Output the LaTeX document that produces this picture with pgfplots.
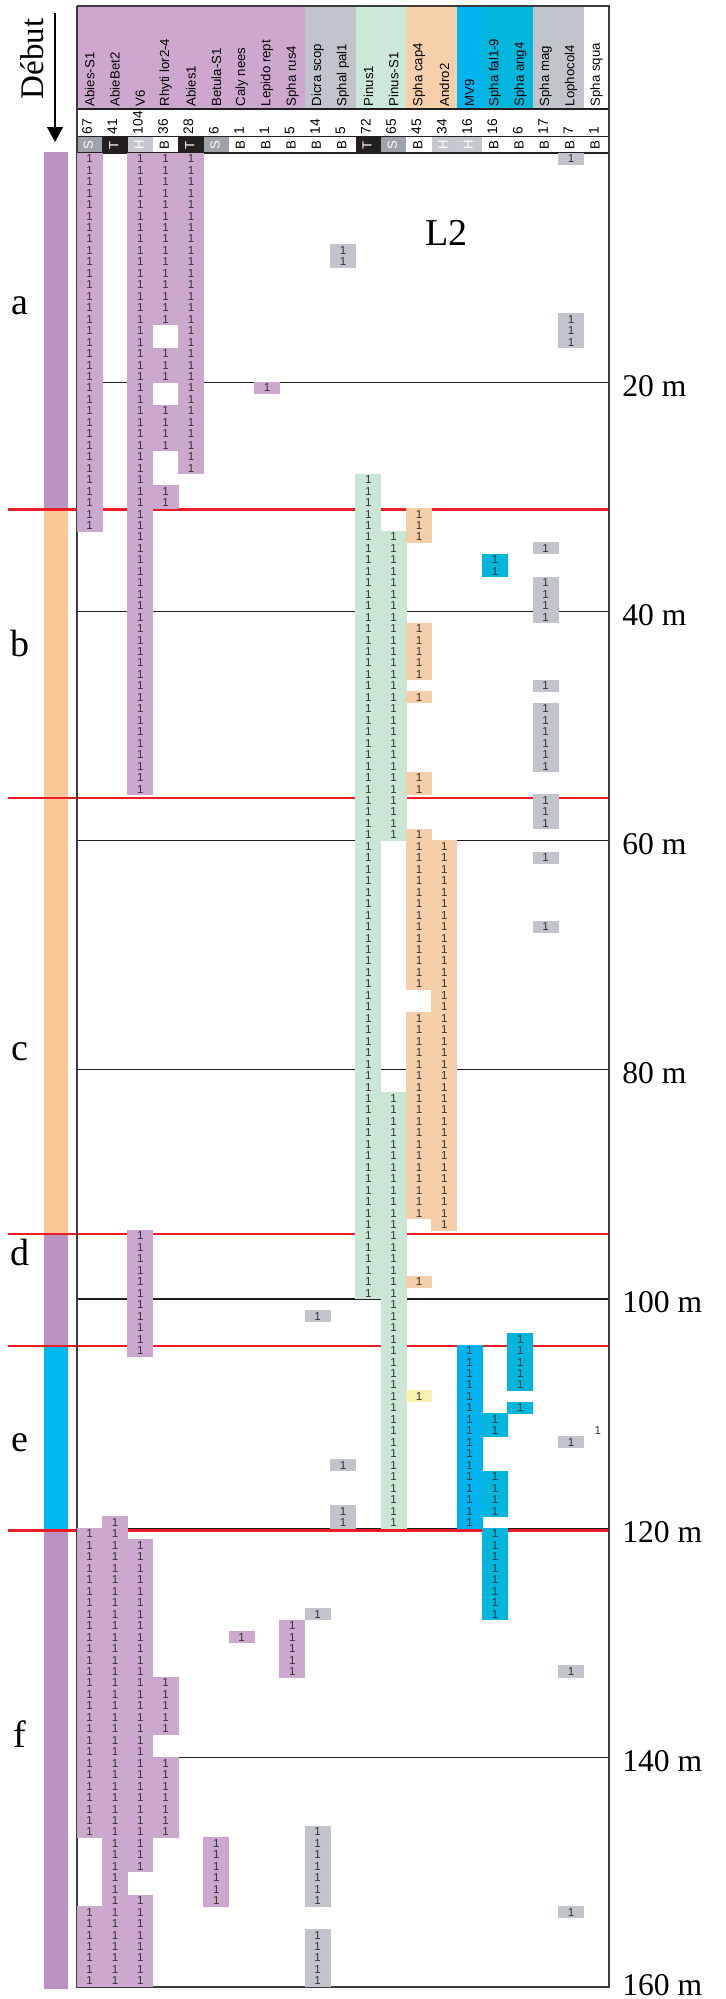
\documentclass[border=0pt]{standalone}
\usepackage{pgfplots}
\pgfplotsset{compat=1.18}
\usetikzlibrary{arrows.meta}
\usepackage{fontspec}
\setmainfont{Liberation Serif}
\newfontfamily\arial{Liberation Sans}

\definecolor{cpur}{HTML}{CCA7CE}
\definecolor{cgray}{HTML}{C1C4CB}
\definecolor{cgreen}{HTML}{CAE7D6}
\definecolor{corange}{HTML}{F5CFA9}
\definecolor{cmv}{HTML}{00B3EE}
\definecolor{ccyan}{HTML}{00B6DC}
\definecolor{cyellow}{HTML}{F7F2AE}
\definecolor{hpur}{HTML}{CDA7CF}
\definecolor{hgreen}{HTML}{CBE8D8}
\definecolor{horange}{HTML}{F5D0AB}
\definecolor{hmv}{HTML}{00B4EF}
\definecolor{tS}{HTML}{9EA3A9}
\definecolor{tT}{HTML}{231F20}
\definecolor{tH}{HTML}{C5C8CE}
\definecolor{bpur}{HTML}{BB93C3}
\definecolor{borange}{HTML}{FAC897}
\definecolor{bblue}{HTML}{00B7EF}
\definecolor{cred}{HTML}{EE1D25}
\definecolor{ctext}{HTML}{333333}
\definecolor{cframe}{HTML}{3C3C3C}

\newcommand\cellfont{\arial\fontsize{5.8}{6}\selectfont}
\newcommand\hf{\arial\fontsize{6.6}{7}\selectfont}
\newcommand\nf{\arial\fontsize{6.9}{7}\selectfont}

% a cell: filled rectangle of one column by one metre, with its "1"
\pgfdeclareplotmark{cell}{%
  \pgfpathrectangle{\pgfpoint{-12.82pt}{-5.88pt}}{\pgfpoint{13.0pt}{6.03pt}}\pgfusepathqfill
  \pgftext[x=-6.333pt,y=-2.865pt]{\cellfont\color{ctext}1}}
% a cell with no fill
\pgfdeclareplotmark{celltext}{%
  \pgftext[x=-5.6pt,y=-2.865pt]{\cellfont\color{ctext}1}}

\newcommand\rect[5]{\addplot[fill=#1,draw=none] coordinates {(#2,#3)(#4,#3)(#4,#5)(#2,#5)};}

\pgfplotsset{cells/.style={only marks, mark=cell}}

\begin{document}
\begin{tikzpicture}
\begin{axis}[scale only axis, width=363pt, height=999.5pt,
  xmin=-3.0395, xmax=25.618, ymin=-13.351, ymax=161.08, y dir=reverse,
  hide axis, clip=false]

% header bands
\rect{hpur}{0}{-12.83}{9}{-3.84}
\rect{cgray}{9}{-12.83}{11}{-3.84}
\rect{hgreen}{11}{-12.83}{13}{-3.84}
\rect{horange}{13}{-12.83}{15}{-3.84}
\rect{hmv}{15}{-12.83}{16}{-3.84}
\rect{ccyan}{16}{-12.83}{18}{-3.84}
\rect{cgray}{18}{-12.83}{20}{-3.84}
% type row
\rect{tS}{0}{-1.44}{1}{0}
\rect{tT}{1}{-1.44}{2}{0}
\rect{tH}{2}{-1.44}{3}{0}
\rect{tT}{4}{-1.44}{5}{0}
\rect{tS}{5}{-1.44}{6}{0}
\rect{tT}{11}{-1.44}{12}{0}
\rect{tS}{12}{-1.44}{13}{0}
\rect{tH}{14}{-1.44}{15}{0}
\rect{tH}{15}{-1.44}{16}{0}

% left bar
\rect{bpur}{-1.303}{-0.1}{-0.355}{31.1}
\rect{borange}{-1.303}{31.1}{-0.355}{94.3}
\rect{bpur}{-1.303}{94.3}{-0.355}{104.1}
\rect{bblue}{-1.303}{104.1}{-0.355}{120.2}
\rect{bpur}{-1.303}{120.2}{-0.355}{160.2}

% cells
\addplot[cells, mark options={fill=cpur}] coordinates {
(1,0)(1,1)(1,2)(1,3)(1,4)(1,5)(1,6)(1,7)(1,8)(1,9)(1,10)(1,11)(1,12)(1,13)(1,14)(1,15)(1,16)(1,17)(1,18)(1,19)(1,20)(1,21)(1,22)(1,23)(1,24)(1,25)(1,26)(1,27)(1,28)(1,29)(1,30)(1,31)(1,32)
(1,120)(1,121)(1,122)(1,123)(1,124)(1,125)(1,126)(1,127)(1,128)(1,129)(1,130)(1,131)(1,132)(1,133)(1,134)(1,135)(1,136)(1,137)(1,138)(1,139)(1,140)(1,141)(1,142)(1,143)(1,144)(1,145)(1,146)
(1,153)(1,154)(1,155)(1,156)(1,157)(1,158)(1,159)};
\addplot[cells, mark options={fill=cpur}] coordinates {
(2,119)(2,120)(2,121)(2,122)(2,123)(2,124)(2,125)(2,126)(2,127)(2,128)(2,129)(2,130)(2,131)(2,132)(2,133)(2,134)(2,135)(2,136)(2,137)(2,138)(2,139)(2,140)(2,141)(2,142)(2,143)(2,144)(2,145)(2,146)(2,147)(2,148)(2,149)(2,150)(2,151)(2,152)(2,153)(2,154)(2,155)(2,156)(2,157)(2,158)(2,159)};
\addplot[cells, mark options={fill=cpur}] coordinates {
(3,0)(3,1)(3,2)(3,3)(3,4)(3,5)(3,6)(3,7)(3,8)(3,9)(3,10)(3,11)(3,12)(3,13)(3,14)(3,15)(3,16)(3,17)(3,18)(3,19)(3,20)(3,21)(3,22)(3,23)(3,24)(3,25)(3,26)(3,27)(3,28)(3,29)(3,30)(3,31)(3,32)(3,33)(3,34)(3,35)(3,36)(3,37)(3,38)(3,39)(3,40)(3,41)(3,42)(3,43)(3,44)(3,45)(3,46)(3,47)(3,48)(3,49)(3,50)(3,51)(3,52)(3,53)(3,54)(3,55)
(3,94)(3,95)(3,96)(3,97)(3,98)(3,99)(3,100)(3,101)(3,102)(3,103)(3,104)
(3,121)(3,122)(3,123)(3,124)(3,125)(3,126)(3,127)(3,128)(3,129)(3,130)(3,131)(3,132)(3,133)(3,134)(3,135)(3,136)(3,137)(3,138)(3,139)(3,140)(3,141)(3,142)(3,143)(3,144)(3,145)(3,146)(3,147)(3,148)(3,149)
(3,152)(3,153)(3,154)(3,155)(3,156)(3,157)(3,158)(3,159)};
\addplot[cells, mark options={fill=cpur}] coordinates {
(4,0)(4,1)(4,2)(4,3)(4,4)(4,5)(4,6)(4,7)(4,8)(4,9)(4,10)(4,11)(4,12)(4,13)(4,14)
(4,17)(4,18)(4,19)(4,22)(4,23)(4,24)(4,25)(4,29)(4,30)
(4,133)(4,134)(4,135)(4,136)(4,137)(4,140)(4,141)(4,142)(4,143)(4,144)(4,145)(4,146)};
\addplot[cells, mark options={fill=cpur}] coordinates {
(5,0)(5,1)(5,2)(5,3)(5,4)(5,5)(5,6)(5,7)(5,8)(5,9)(5,10)(5,11)(5,12)(5,13)(5,14)(5,15)(5,16)(5,17)(5,18)(5,19)(5,20)(5,21)(5,22)(5,23)(5,24)(5,25)(5,26)(5,27)};
\addplot[cells, mark options={fill=cpur}] coordinates {
(6,147)(6,148)(6,149)(6,150)(6,151)(6,152)
(7,129)(8,20)
(9,128)(9,129)(9,130)(9,131)(9,132)};
\addplot[cells, mark options={fill=cgray}] coordinates {
(10,101)(10,127)(10,146)(10,147)(10,148)(10,149)(10,150)(10,151)(10,152)(10,155)(10,156)(10,157)(10,158)(10,159)
(11,8)(11,9)(11,114)(11,118)(11,119)};
\addplot[cells, mark options={fill=cgreen}] coordinates {
(12,28)(12,29)(12,30)(12,31)(12,32)(12,33)(12,34)(12,35)(12,36)(12,37)(12,38)(12,39)(12,40)(12,41)(12,42)(12,43)(12,44)(12,45)(12,46)(12,47)(12,48)(12,49)(12,50)(12,51)(12,52)(12,53)(12,54)(12,55)(12,56)(12,57)(12,58)(12,59)(12,60)(12,61)(12,62)(12,63)(12,64)(12,65)(12,66)(12,67)(12,68)(12,69)(12,70)(12,71)(12,72)(12,73)(12,74)(12,75)(12,76)(12,77)(12,78)(12,79)(12,80)(12,81)(12,82)(12,83)(12,84)(12,85)(12,86)(12,87)(12,88)(12,89)(12,90)(12,91)(12,92)(12,93)(12,94)(12,95)(12,96)(12,97)(12,98)(12,99)};
\addplot[cells, mark options={fill=cgreen}] coordinates {
(13,33)(13,34)(13,35)(13,36)(13,37)(13,38)(13,39)(13,40)(13,41)(13,42)(13,43)(13,44)(13,45)(13,46)(13,47)(13,48)(13,49)(13,50)(13,51)(13,52)(13,53)(13,54)(13,55)(13,56)(13,57)(13,58)(13,59)
(13,82)(13,83)(13,84)(13,85)(13,86)(13,87)(13,88)(13,89)(13,90)(13,91)(13,92)(13,93)(13,94)(13,95)(13,96)(13,97)(13,98)(13,99)(13,100)(13,101)(13,102)(13,103)(13,104)(13,105)(13,106)(13,107)(13,108)(13,109)(13,110)(13,111)(13,112)(13,113)(13,114)(13,115)(13,116)(13,117)(13,118)(13,119)};
\addplot[cells, mark options={fill=corange}] coordinates {
(14,31)(14,32)(14,33)(14,41)(14,42)(14,43)(14,44)(14,45)(14,47)(14,54)(14,55)
(14,59)(14,60)(14,61)(14,62)(14,63)(14,64)(14,65)(14,66)(14,67)(14,68)(14,69)(14,70)(14,71)(14,72)
(14,75)(14,76)(14,77)(14,78)(14,79)(14,80)(14,81)(14,82)(14,83)(14,84)(14,85)(14,86)(14,87)(14,88)(14,89)(14,90)(14,91)(14,92)(14,98)};
\addplot[cells, mark options={fill=cyellow}] coordinates {(14,108)};
\addplot[cells, mark options={fill=corange}] coordinates {
(15,60)(15,61)(15,62)(15,63)(15,64)(15,65)(15,66)(15,67)(15,68)(15,69)(15,70)(15,71)(15,72)(15,73)(15,74)(15,75)(15,76)(15,77)(15,78)(15,79)(15,80)(15,81)(15,82)(15,83)(15,84)(15,85)(15,86)(15,87)(15,88)(15,89)(15,90)(15,91)(15,92)(15,93)};
\addplot[cells, mark options={fill=cmv}] coordinates {
(16,104)(16,105)(16,106)(16,107)(16,108)(16,109)(16,110)(16,111)(16,112)(16,113)(16,114)(16,115)(16,116)(16,117)(16,118)(16,119)};
\addplot[cells, mark options={fill=ccyan}] coordinates {
(17,35)(17,36)(17,110)(17,111)(17,115)(17,116)(17,117)(17,118)(17,120)(17,121)(17,122)(17,123)(17,124)(17,125)(17,126)(17,127)
(18,103)(18,104)(18,105)(18,106)(18,107)(18,109)};
\addplot[cells, mark options={fill=cgray}] coordinates {
(19,34)(19,37)(19,38)(19,39)(19,40)(19,46)(19,48)(19,49)(19,50)(19,51)(19,52)(19,53)(19,56)(19,57)(19,58)(19,61)(19,67)
(20,0)(20,14)(20,15)(20,16)(20,112)(20,132)(20,153)};
\addplot[only marks, mark=celltext] coordinates {(21,111)};

% depth lines
\addplot[tT, line width=0.6pt] coordinates {(0,20)(21,20)};
\addplot[tT, line width=0.6pt] coordinates {(0,40)(21,40)};
\addplot[tT, line width=0.6pt] coordinates {(0,60)(21,60)};
\addplot[tT, line width=0.6pt] coordinates {(0,80)(21,80)};
\addplot[tT, line width=0.6pt] coordinates {(0,100)(21,100)};
\addplot[tT, line width=0.6pt] coordinates {(0,120)(21,120)};
\addplot[tT, line width=0.6pt] coordinates {(0,140)(21,140)};
% header separators
\addplot[tT, line width=0.75pt] coordinates {(0,-3.84)(21,-3.84)};
\addplot[tT, line width=0.8pt] coordinates {(0,-1.44)(21,-1.44)};
\addplot[tT, line width=0.6pt] coordinates {(0,0)(21,0)};
% red lines
\addplot[cred, line width=1.1pt] coordinates {(-2.71,31.1)(21,31.1)};
\addplot[cred, line width=1.1pt] coordinates {(-2.71,56.3)(21,56.3)};
\addplot[cred, line width=1.1pt] coordinates {(-2.71,94.3)(21,94.3)};
\addplot[cred, line width=1.1pt] coordinates {(-2.71,104.1)(21,104.1)};
\addplot[cred, line width=1.1pt] coordinates {(-2.71,120.2)(21,120.2)};
% frame
\addplot[cframe, line width=0.65pt] coordinates {(0,-12.83)(21,-12.83)(21,160.03)(0,160.03)(0,-12.83)};
% arrow
\addplot[black, line width=0.65pt, -{Triangle[width=8pt,length=7.5pt]}] coordinates {(-0.868,-12.2)(-0.868,-0.96)};

% header labels
\node[rotate=90,anchor=west,inner sep=0pt,font=\hf] at (axis cs:0.5,-4.05) {Abies-S1};
\node[rotate=90,anchor=west,inner sep=0pt,font=\hf] at (axis cs:1.5,-4.05) {AbieBet2};
\node[rotate=90,anchor=west,inner sep=0pt,font=\hf] at (axis cs:2.5,-4.05) {V6};
\node[rotate=90,anchor=west,inner sep=0pt,font=\hf] at (axis cs:3.5,-4.05) {Rhyti lor2-4};
\node[rotate=90,anchor=west,inner sep=0pt,font=\hf] at (axis cs:4.5,-4.05) {Abies1};
\node[rotate=90,anchor=west,inner sep=0pt,font=\hf] at (axis cs:5.5,-4.05) {Betula-S1};
\node[rotate=90,anchor=west,inner sep=0pt,font=\hf] at (axis cs:6.5,-4.05) {Caly nees};
\node[rotate=90,anchor=west,inner sep=0pt,font=\hf] at (axis cs:7.5,-4.05) {Lepido rept};
\node[rotate=90,anchor=west,inner sep=0pt,font=\hf] at (axis cs:8.5,-4.05) {Spha rus4};
\node[rotate=90,anchor=west,inner sep=0pt,font=\hf] at (axis cs:9.5,-4.05) {Dicra scop};
\node[rotate=90,anchor=west,inner sep=0pt,font=\hf] at (axis cs:10.5,-4.05) {Sphal pal1};
\node[rotate=90,anchor=west,inner sep=0pt,font=\hf] at (axis cs:11.5,-4.05) {Pinus1};
\node[rotate=90,anchor=west,inner sep=0pt,font=\hf] at (axis cs:12.5,-4.05) {Pinus-S1};
\node[rotate=90,anchor=west,inner sep=0pt,font=\hf] at (axis cs:13.5,-4.05) {Spha cap4};
\node[rotate=90,anchor=west,inner sep=0pt,font=\hf] at (axis cs:14.5,-4.05) {Andro2};
\node[rotate=90,anchor=west,inner sep=0pt,font=\hf] at (axis cs:15.5,-4.05) {MV9};
\node[rotate=90,anchor=west,inner sep=0pt,font=\hf] at (axis cs:16.5,-4.05) {Spha fal1-9};
\node[rotate=90,anchor=west,inner sep=0pt,font=\hf] at (axis cs:17.5,-4.05) {Spha ang4};
\node[rotate=90,anchor=west,inner sep=0pt,font=\hf] at (axis cs:18.5,-4.05) {Spha mag};
\node[rotate=90,anchor=west,inner sep=0pt,font=\hf] at (axis cs:19.5,-4.05) {Lophocol4};
\node[rotate=90,anchor=west,inner sep=0pt,font=\hf] at (axis cs:20.5,-4.05) {Spha squa};
% counts
\node[rotate=90,anchor=west,inner sep=0pt,font=\nf] at (axis cs:0.4,-1.62) {67};
\node[rotate=90,anchor=west,inner sep=0pt,font=\nf] at (axis cs:1.4,-1.62) {41};
\node[rotate=90,anchor=west,inner sep=0pt,font=\nf] at (axis cs:2.4,-1.62) {104};
\node[rotate=90,anchor=west,inner sep=0pt,font=\nf] at (axis cs:3.4,-1.62) {36};
\node[rotate=90,anchor=west,inner sep=0pt,font=\nf] at (axis cs:4.4,-1.62) {28};
\node[rotate=90,anchor=west,inner sep=0pt,font=\nf] at (axis cs:5.4,-1.62) {6};
\node[rotate=90,anchor=west,inner sep=0pt,font=\nf] at (axis cs:6.4,-1.62) {1};
\node[rotate=90,anchor=west,inner sep=0pt,font=\nf] at (axis cs:7.4,-1.62) {1};
\node[rotate=90,anchor=west,inner sep=0pt,font=\nf] at (axis cs:8.4,-1.62) {5};
\node[rotate=90,anchor=west,inner sep=0pt,font=\nf] at (axis cs:9.4,-1.62) {14};
\node[rotate=90,anchor=west,inner sep=0pt,font=\nf] at (axis cs:10.4,-1.62) {5};
\node[rotate=90,anchor=west,inner sep=0pt,font=\nf] at (axis cs:11.4,-1.62) {72};
\node[rotate=90,anchor=west,inner sep=0pt,font=\nf] at (axis cs:12.4,-1.62) {65};
\node[rotate=90,anchor=west,inner sep=0pt,font=\nf] at (axis cs:13.4,-1.62) {45};
\node[rotate=90,anchor=west,inner sep=0pt,font=\nf] at (axis cs:14.4,-1.62) {34};
\node[rotate=90,anchor=west,inner sep=0pt,font=\nf] at (axis cs:15.4,-1.62) {16};
\node[rotate=90,anchor=west,inner sep=0pt,font=\nf] at (axis cs:16.4,-1.62) {16};
\node[rotate=90,anchor=west,inner sep=0pt,font=\nf] at (axis cs:17.4,-1.62) {6};
\node[rotate=90,anchor=west,inner sep=0pt,font=\nf] at (axis cs:18.4,-1.62) {17};
\node[rotate=90,anchor=west,inner sep=0pt,font=\nf] at (axis cs:19.4,-1.62) {7};
\node[rotate=90,anchor=west,inner sep=0pt,font=\nf] at (axis cs:20.4,-1.62) {1};
% types
\node[rotate=90,inner sep=0pt,font=\hf,text=white] at (axis cs:0.45,-0.7) {S};
\node[rotate=90,inner sep=0pt,font=\hf,text=white] at (axis cs:1.45,-0.7) {T};
\node[rotate=90,inner sep=0pt,font=\hf,text=white] at (axis cs:2.45,-0.7) {H};
\node[rotate=90,inner sep=0pt,font=\hf] at (axis cs:3.45,-0.7) {B};
\node[rotate=90,inner sep=0pt,font=\hf,text=white] at (axis cs:4.45,-0.7) {T};
\node[rotate=90,inner sep=0pt,font=\hf,text=white] at (axis cs:5.45,-0.7) {S};
\node[rotate=90,inner sep=0pt,font=\hf] at (axis cs:6.45,-0.7) {B};
\node[rotate=90,inner sep=0pt,font=\hf] at (axis cs:7.45,-0.7) {B};
\node[rotate=90,inner sep=0pt,font=\hf] at (axis cs:8.45,-0.7) {B};
\node[rotate=90,inner sep=0pt,font=\hf] at (axis cs:9.45,-0.7) {B};
\node[rotate=90,inner sep=0pt,font=\hf] at (axis cs:10.45,-0.7) {B};
\node[rotate=90,inner sep=0pt,font=\hf,text=white] at (axis cs:11.45,-0.7) {T};
\node[rotate=90,inner sep=0pt,font=\hf,text=white] at (axis cs:12.45,-0.7) {S};
\node[rotate=90,inner sep=0pt,font=\hf] at (axis cs:13.45,-0.7) {B};
\node[rotate=90,inner sep=0pt,font=\hf,text=white] at (axis cs:14.45,-0.7) {H};
\node[rotate=90,inner sep=0pt,font=\hf,text=white] at (axis cs:15.45,-0.7) {H};
\node[rotate=90,inner sep=0pt,font=\hf] at (axis cs:16.45,-0.7) {B};
\node[rotate=90,inner sep=0pt,font=\hf] at (axis cs:17.45,-0.7) {B};
\node[rotate=90,inner sep=0pt,font=\hf] at (axis cs:18.45,-0.7) {B};
\node[rotate=90,inner sep=0pt,font=\hf] at (axis cs:19.45,-0.7) {B};
\node[rotate=90,inner sep=0pt,font=\hf] at (axis cs:20.45,-0.7) {B};

% big texts
\node[rotate=90,inner sep=0pt,font=\fontsize{16.5}{17}\selectfont] at (axis cs:-1.757,-8.2) {Début};
\node[inner sep=0pt,font=\fontsize{19}{20}\selectfont] at (axis cs:14.58,6.98) {L2};
\node[inner sep=0pt,font=\fontsize{19}{20}\selectfont] at (axis cs:-2.25,13.35) {a};
\node[inner sep=0pt,font=\fontsize{19}{20}\selectfont] at (axis cs:-2.25,42.8) {b};
\node[inner sep=0pt,font=\fontsize{19}{20}\selectfont] at (axis cs:-2.25,78.4) {c};
\node[inner sep=0pt,font=\fontsize{19}{20}\selectfont] at (axis cs:-2.25,95.9) {d};
\node[inner sep=0pt,font=\fontsize{19}{20}\selectfont] at (axis cs:-2.25,112.5) {e};
\node[inner sep=0pt,font=\fontsize{19}{20}\selectfont] at (axis cs:-2.25,138) {f};
\node[anchor=west,inner sep=0pt,font=\fontsize{15.8}{16}\selectfont] at (axis cs:21.51,20.3) {20 m};
\node[anchor=west,inner sep=0pt,font=\fontsize{15.8}{16}\selectfont] at (axis cs:21.51,40.3) {40 m};
\node[anchor=west,inner sep=0pt,font=\fontsize{15.8}{16}\selectfont] at (axis cs:21.51,60.3) {60 m};
\node[anchor=west,inner sep=0pt,font=\fontsize{15.8}{16}\selectfont] at (axis cs:21.51,80.3) {80 m};
\node[anchor=west,inner sep=0pt,font=\fontsize{15.8}{16}\selectfont] at (axis cs:21.51,100.3) {100 m};
\node[anchor=west,inner sep=0pt,font=\fontsize{15.8}{16}\selectfont] at (axis cs:21.51,120.3) {120 m};
\node[anchor=west,inner sep=0pt,font=\fontsize{15.8}{16}\selectfont] at (axis cs:21.51,140.3) {140 m};
\node[anchor=west,inner sep=0pt,font=\fontsize{15.8}{16}\selectfont] at (axis cs:21.51,159.85) {160 m};
\end{axis}
\pgfresetboundingbox
\path (current axis.south west) rectangle (current axis.north east);
\end{tikzpicture}
\end{document}
